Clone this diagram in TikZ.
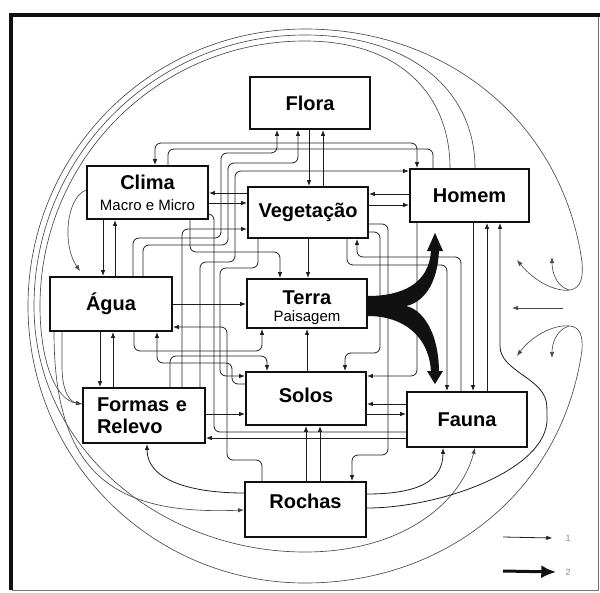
\documentclass[tikz,border=0pt]{standalone}
\usepackage{fontspec}
\setmainfont{Liberation Sans}
\usetikzlibrary{arrows.meta}
\definecolor{ink}{HTML}{111111}
\definecolor{wirec}{HTML}{1E1E1E}
\definecolor{faint}{HTML}{4A4A4A}
\newcommand\subtxt{\fontsize{15}{17}\mdseries\selectfont}

\begin{document}
\begin{tikzpicture}[
  x=1pt, y=1pt,
  box/.style    = {draw=ink, line width=1.8pt, minimum width=120pt, minimum height=52pt,
                   inner sep=0pt, align=center, font=\fontsize{20}{22}\bfseries\selectfont},
  wire/.style   = {draw=wirec, line width=0.8pt, rounded corners=6pt},
  arr/.style    = {wire, -{Latex[length=6pt,width=4.5pt]}},
  both/.style   = {wire, {Latex[length=6pt,width=4.5pt]}-{Latex[length=6pt,width=4.5pt]}},
  ring/.style   = {draw=faint, line width=0.65pt},
  ringarr/.style = {ring, -{Latex[length=6pt,width=4.5pt]}},
  legtxt/.style = {font=\fontsize{9}{10}\selectfont, text=black!45, inner sep=1pt},
]

\useasboundingbox (0,0) rectangle (600,-592);

\draw[ink, line width=4pt] (10.5,-590) -- (10.5,-15) -- (600,-15);
\draw[black!55, line width=0.8pt] (12,-590) -- (598.5,-590) -- (598.5,-17);

\node[box] (flora) at (310,-103) {Flora};
\node[box, minimum width=121pt, minimum height=53pt] (clima) at (147.5,-192.5)
  {Clima\\[-1pt]{\subtxt Macro e Micro}};
\node[box, minimum height=51pt] (veg) at (308,-212.5) {Vegetação};
\node[box, minimum width=119pt, minimum height=53pt] (homem) at (469.5,-195.5) {Homem};
\node[box, minimum width=122pt, minimum height=54pt] (agua) at (111,-304) {Água};
\node[box, minimum height=49pt] (terra) at (307,-303.5)
  {\rule{0pt}{21.6pt}Terra\\[-5pt]{\subtxt Paisagem}};
\node[box, minimum height=55pt, text width=94pt, align=left, inner xsep=14pt] (formas)
  at (144,-415.5) {Formas e\\Relevo};
\node[box, minimum height=53pt] (solos) at (306,-398.5) {Solos\rule[-7pt]{0pt}{7pt}};
\node[box, minimum height=55pt] (fauna) at (467,-419.5) {Fauna};
\node[box, minimum width=121pt, minimum height=55pt] (rochas) at (305.5,-509.5)
  {Rochas\rule[-16pt]{0pt}{16pt}};

\coordinate (upA) at (517,-260);
\coordinate (upB) at (552,-257);
\coordinate (loA) at (517,-356);
\coordinate (loB) at (552,-358);
\coordinate (midA) at (563,-308);
\coordinate (midB) at (512,-308);
\coordinate (tipU) at ([yshift=-10pt]homem.south -| 435,0);
\coordinate (tipL) at ([yshift=7pt]fauna.north -| 435,0);

% outer rings
\draw[ring, {Latex[length=6pt,width=4.5pt]}-{Latex[length=6pt,width=4.5pt]}] (upA)
  .. controls (535,-282) and (556,-292) .. (570,-290)
  .. controls (582,-288) and (583,-276) .. (582,-262)
  to[out=98,in=0] (305,-29) to[out=180,in=90] (28,-306)
  to[out=270,in=180] (305,-583) to[out=0,in=262] (582,-350)
  .. controls (583,-336) and (580,-327) .. (570,-326)
  .. controls (552,-324) and (530,-338) .. (loA);
\draw[ringarr] (569,-290) .. controls (556,-286) and (552,-272) .. (upB);
\draw[ringarr] (569,-326) .. controls (556,-330) and (552,-344) .. (loB);
\draw[ringarr] (midA) -- (midB);
\draw[ringarr] (475,0|-homem.north) .. controls (475,-90) and (410,-35) .. (305,-35)
  to[out=180,in=90] (34,-306) to[out=270,in=180] (305,-552)
  .. controls (400,-552) and (460,-505) .. (475,0|-fauna.south);
\draw[ringarr] (450,0|-homem.north) .. controls (450,-95) and (400,-41) .. (305,-41)
  to[out=180,in=90] (40,-306) .. controls (40,-360) and (55,-400) .. (formas.west|-0,-404);
\draw[ringarr] (62,0|-agua.south) -- (62,-366) .. controls (62,-392) and (70,-402) .. (formas.west|-0,-404);
\draw[ringarr] (54,0|-agua.south) .. controls (54,-480) and (120,-515) .. (rochas.west|-0,-510);
\draw[ringarr] (clima.west|-0,-190) .. controls (66,-198) and (62,-245) .. ([xshift=-31pt,yshift=5pt]agua.north);

% straight links
\draw[arr] (309,0|-flora.south) -- (309,0|-veg.north);
\draw[arr] (323,0|-veg.north) -- (323,0|-flora.south);
\draw[arr] (103,0|-clima.south) -- (103,0|-agua.north);
\draw[arr] (115,0|-agua.north) -- (115,0|-clima.south);
\draw[arr] (100,0|-agua.south) -- (100,0|-formas.north);
\draw[arr] (113,0|-formas.north) -- (113,0|-agua.south);
\draw[arr] (veg.west|-0,-193) -- (clima.east|-0,-193);
\draw[arr] (clima.east|-0,-203) -- (veg.west|-0,-203);
\draw[arr] (homem.west|-0,-194) -- (veg.east|-0,-194);
\draw[arr] (veg.east|-0,-205) -- (homem.west|-0,-205);
\draw[arr] (agua.east|-0,-304) -- (terra.west|-0,-304);
\draw[arr] (formas.east|-0,-414) -- (solos.west|-0,-414);
\draw[arr] (fauna.west|-0,-404) -- (solos.east|-0,-404);
\draw[arr] (solos.east|-0,-414) -- (fauna.west|-0,-414);
\draw[arr] (fauna.west|-0,-438) -- (formas.east|-0,-438);
\draw[arr] (308,0|-veg.south) -- (308,0|-terra.north);
\draw[arr] (307,0|-solos.north) -- (307,0|-terra.south);
\draw[arr] (306,0|-rochas.north) -- (306,0|-solos.south);
\draw[arr] (320,0|-rochas.north) -- (320,0|-solos.south);
\draw[arr] (473,0|-homem.south) -- (473,0|-fauna.north);
\draw[arr] (487,0|-fauna.north) -- (487,0|-homem.south);

% routed links
\draw[arr] (133,0|-agua.north) |- (221,-238) |- (277,-153) -- (277,0|-flora.south);
\draw[arr] (143,0|-agua.north) |- (228,-245) |- (298,-163) -- (298,0|-flora.south);
\draw[arr] (200,0|-formas.north) |- (235,-262) |- (homem.west|-0,-171);
\draw[arr] (182,0|-formas.north) |- (veg.west|-0,-229);
\draw[arr] (190,0|-clima.south) |- (280,-252) -- (280,0|-terra.north);
\draw[both] (155,0|-clima.north) |- (417,-143) -- (417,0|-homem.north);
\draw[wire] (168,0|-clima.north) |- (433,-149) -- (433,0|-homem.north);
\draw[arr] (258,0|-veg.south) |- (220,-268) |- (solos.west|-0,-376);
\draw[arr] (solos.west|-0,-384) -| (232,-363) -| (157,0|-agua.south);
\draw[arr] (134,0|-agua.south) |- (262,-351) -- (262,0|-terra.south);
\draw[arr] (170,0|-formas.north) |- (267,-356) -- (267,0|-solos.north);
\draw[arr] (262,0|-rochas.north) |- (227,-460) |- (agua.east|-0,-327);
\draw[wire] (clima.east|-0,-214) -| (214,-432) -- (fauna.west|-0,-432);
\draw[arr] (veg.east|-0,-232) -| (380,-353) -| (345,0|-solos.north);
\draw[arr] (veg.east|-0,-224) -| (388,-455) -| (352,0|-rochas.north);
\draw[arr] (417,0|-homem.south) |- (solos.east|-0,-376);
\draw[arr] (461,0|-fauna.north) |- (357,-257) -- (357,0|-veg.south);
\draw[arr] (347,0|-veg.south) |- (447,-265) -- (447,0|-fauna.north);
\draw[arr] (rochas.east|-0,-508) .. controls (440,-508) and (548,-470) .. (547,-412)
  .. controls (546,-378) and (500,-372) .. (500,-340) -- (500,0|-homem.south);
\draw[arr] (rochas.east|-0,-494) .. controls (420,-494) and (443,-480) .. (443,0|-fauna.south);
\draw[arr] (rochas.west|-0,-493) .. controls (190,-493) and (147,-480) .. (147,0|-formas.south);

% main flow
\fill[ink] (terra.east|-0,-296) .. controls (400,-296) and (430,-285) .. (431,-249)
  -- (439,-249) .. controls (438,-287) and (421,-303) .. (406,-306)
  .. controls (421,-309) and (439,-330) .. (439,-373)
  -- (431,-373) .. controls (430,-338) and (405,-316) .. (terra.east|-0,-316) -- cycle;
\fill[ink] (427,-251) -- (tipU) -- (443,-251) -- cycle;
\fill[ink] (427,-371) -- (tipL) -- (443,-371) -- cycle;

% legend
\coordinate (leg1) at (503,-537);
\coordinate (leg2) at (503,-571);
\node[legtxt] (lab1) at (568,-538) {1};
\node[legtxt] (lab2) at (568,-572) {2};
\draw[arr] (leg1) -- ([xshift=-12pt]lab1.west);
\draw[ink, line width=3pt, -{Latex[length=15pt,width=13pt]}] (leg2) -- ([xshift=-8pt]lab2.west);

\end{tikzpicture}
\end{document}
